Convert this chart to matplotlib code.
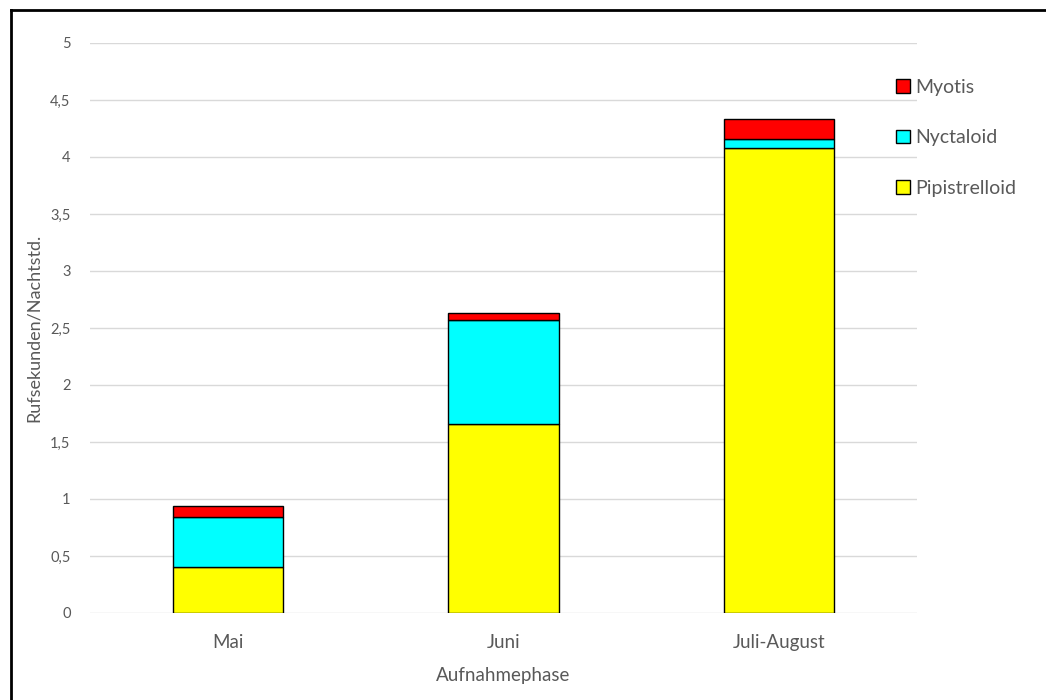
import matplotlib
matplotlib.use("Agg")
import matplotlib.pyplot as plt
from matplotlib.lines import Line2D
from matplotlib.patches import Patch

categories = ["Mai", "Juni", "Juli-August"]
pipistrelloid = [0.40, 1.66, 4.08]
nyctaloid = [0.44, 0.91, 0.075]
myotis = [0.10, 0.06, 0.175]
yticks = [0, 0.5, 1, 1.5, 2, 2.5, 3, 3.5, 4, 4.5, 5]
ytick_labels = ["0", "0,5", "1", "1,5", "2", "2,5", "3", "3,5", "4", "4,5", "5"]

plt.rcParams['font.family'] = ['Lato', 'DejaVu Sans']
grey = "#595959"

fig = plt.figure(figsize=(10.46, 7.0), dpi=100)
ax = fig.add_axes([90/1046, 1-613/700, (917-90)/1046, (613-43)/700])

x = list(range(len(categories)))
w = 0.40
bottom2 = [a + b for a, b in zip(pipistrelloid, nyctaloid)]
ax.bar(x, pipistrelloid, w, color="#FFFF00", edgecolor="black", linewidth=1, zorder=3)
ax.bar(x, nyctaloid, w, bottom=pipistrelloid, color="#00FFFF", edgecolor="black", linewidth=1, zorder=3)
ax.bar(x, myotis, w, bottom=bottom2, color="#FF0000", edgecolor="black", linewidth=1, zorder=3)

ax.set_xlim(-0.5, 2.5)
ax.set_ylim(0, 5)
ax.set_yticks(yticks)
ax.set_yticklabels(ytick_labels, fontsize=10.5, color=grey)
ax.set_xticks(x)
ax.set_xticklabels(categories, fontsize=13.5, color=grey)
ax.tick_params(axis='y', length=0, pad=14)
ax.tick_params(axis='x', length=0, pad=15)
ax.grid(axis='y', color="#d9d9d9", linewidth=1, zorder=0)
for s in ax.spines.values():
    s.set_visible(False)

ax.set_xlabel("Aufnahmephase", fontsize=13.5, color=grey, labelpad=12)
ax.set_ylabel("Rufsekunden/Nachtstd.", fontsize=13, color=grey, labelpad=6)

handles = [Patch(facecolor="#FF0000", edgecolor="black", linewidth=1),
           Patch(facecolor="#00FFFF", edgecolor="black", linewidth=1),
           Patch(facecolor="#FFFF00", edgecolor="black", linewidth=1)]
leg = fig.legend(handles, ["Myotis", "Nyctaloid", "Pipistrelloid"],
                 loc="upper left", bbox_to_anchor=(896/1046, 1-79/700),
                 frameon=False, fontsize=14, labelspacing=1.72,
                 handlelength=0.7, handleheight=0.7, handletextpad=0.3,
                 borderaxespad=0, borderpad=0)
for t in leg.get_texts():
    t.set_color(grey)

fig.add_artist(Line2D([11/1046, 1], [1-10/700, 1-10/700], color="black", linewidth=2, transform=fig.transFigure))
fig.add_artist(Line2D([11/1046, 11/1046], [0, 1-10/700], color="black", linewidth=2, transform=fig.transFigure))

fig.savefig("out.png", dpi=100)
